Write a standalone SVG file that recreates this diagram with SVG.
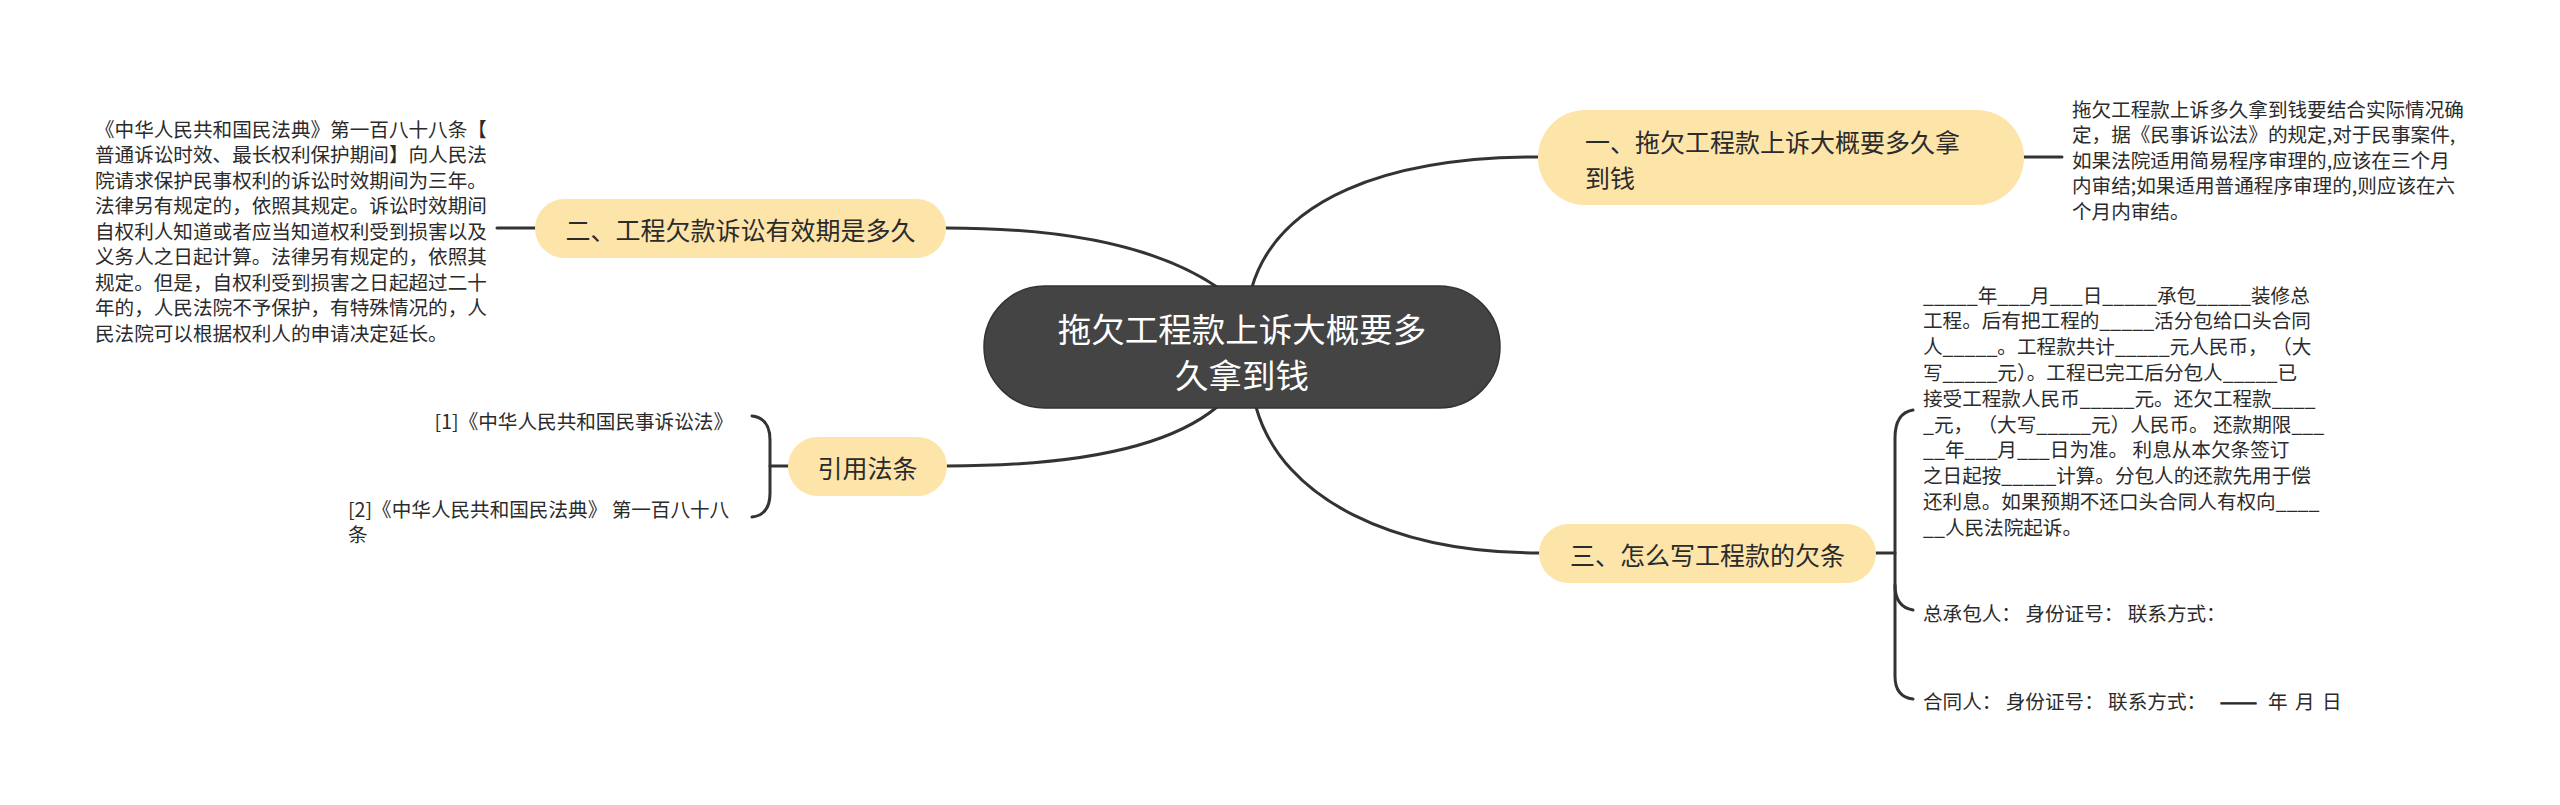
<svg xmlns="http://www.w3.org/2000/svg" width="2560" height="805" viewBox="0 0 2560 805">
<style>
.t{font-family:"Noto Sans CJK SC","Noto Sans",sans-serif;fill:#2b2b2b;dominant-baseline:central}
.s{font-size:19.6px}
.m{font-size:25px}
.c{font-size:33.5px;fill:#ffffff}
.pill{fill:#fde4a9}
.ln{fill:none;stroke:#333333;stroke-width:3;stroke-linecap:round}
</style>
<rect width="2560" height="805" fill="#ffffff"/>
<g id="connectors">
<path class="ln" d="M946,228 C1090,228 1170,255 1217,287"/>
<path class="ln" d="M1252,287 C1278,200 1385,157 1538,157"/>
<path class="ln" d="M947,466 C1095,466 1175,442 1217,407"/>
<path class="ln" d="M1256,407 C1282,500 1395,553 1539,553"/>
<path class="ln" d="M497,228 L535,228"/>
<path class="ln" d="M2024,157 L2062,157"/>
<path class="ln" d="M752,416 Q770,418 770,440 L770,493 Q770,515 752,517"/>
<path class="ln" d="M770,466 L788,466"/>
<path class="ln" d="M1876,553 L1895,553"/>
<path class="ln" d="M1913,410 Q1895,413 1895,438 L1895,676 Q1895,697 1913,699"/>
<path class="ln" d="M1895,585 Q1895,607 1913,610"/>
</g>
<g id="center">
<rect x="984" y="286" width="516" height="122" rx="61" fill="#444444" stroke="#333333" stroke-width="1.5"/>
<text class="t c" x="1242" y="327" text-anchor="middle">拖欠工程款上诉大概要多</text>
<text class="t c" x="1242" y="373" text-anchor="middle">久拿到钱</text>
</g>
<g id="node1">
<rect class="pill" x="1538" y="110" width="486" height="95" rx="47.5"/>
<text class="t m" x="1585" y="141">一、拖欠工程款上诉大概要多久拿</text>
<text class="t m" x="1585" y="177">到钱</text>
</g>
<g id="node1-text">
<text class="t s" x="2072" y="108">拖欠工程款上诉多久拿到钱要结合实际情况确</text>
<text class="t s" x="2072" y="133.5">定，据《民事诉讼法》的规定,对于民事案件,</text>
<text class="t s" x="2072" y="159">如果法院适用简易程序审理的,应该在三个月</text>
<text class="t s" x="2072" y="184.5">内审结;如果适用普通程序审理的,则应该在六</text>
<text class="t s" x="2072" y="210">个月内审结。</text>
</g>
<g id="node2">
<rect class="pill" x="535" y="199" width="411" height="59" rx="29.5"/>
<text class="t m" x="740.5" y="228.5" text-anchor="middle">二、工程欠款诉讼有效期是多久</text>
</g>
<g id="node2-text">
<text class="t s" x="95" y="128">《中华人民共和国民法典》第一百八十八条【</text>
<text class="t s" x="95" y="153.5">普通诉讼时效、最长权利保护期间】向人民法</text>
<text class="t s" x="95" y="179">院请求保护民事权利的诉讼时效期间为三年。</text>
<text class="t s" x="95" y="204.5">法律另有规定的，依照其规定。诉讼时效期间</text>
<text class="t s" x="95" y="230">自权利人知道或者应当知道权利受到损害以及</text>
<text class="t s" x="95" y="255.5">义务人之日起计算。法律另有规定的，依照其</text>
<text class="t s" x="95" y="281">规定。但是，自权利受到损害之日起超过二十</text>
<text class="t s" x="95" y="306.5">年的，人民法院不予保护，有特殊情况的，人</text>
<text class="t s" x="95" y="332">民法院可以根据权利人的申请决定延长。</text>
</g>
<g id="node3">
<rect class="pill" x="788" y="437" width="159" height="59" rx="29.5"/>
<text class="t m" x="867.5" y="466.5" text-anchor="middle">引用法条</text>
</g>
<g id="node3-ref1">
<text class="t s" x="733" y="420" text-anchor="end">[1]《中华人民共和国民事诉讼法》</text>
</g>
<g id="node3-ref2">
<text class="t s" x="348" y="508">[2]《中华人民共和国民法典》 第一百八十八</text>
<text class="t s" x="348" y="533">条</text>
</g>
<g id="node4">
<rect class="pill" x="1539" y="524" width="337" height="59" rx="29.5"/>
<text class="t m" x="1707.5" y="553.5" text-anchor="middle">三、怎么写工程款的欠条</text>
</g>
<g id="node4-text">
<text class="t s" x="1923" y="294">_____年___月___日_____承包_____装修总</text>
<text class="t s" x="1923" y="319.8">工程。后有把工程的_____活分包给口头合同</text>
<text class="t s" x="1923" y="345.6">人_____。工程款共计_____元人民币， （大</text>
<text class="t s" x="1923" y="371.4">写_____元）。工程已完工后分包人_____已</text>
<text class="t s" x="1923" y="397.2">接受工程款人民币_____元。还欠工程款____</text>
<text class="t s" x="1923" y="423">_元， （大写_____元）人民币。 还款期限___</text>
<text class="t s" x="1923" y="448.8">__年___月___日为准。 利息从本欠条签订</text>
<text class="t s" x="1923" y="474.6">之日起按_____计算。分包人的还款先用于偿</text>
<text class="t s" x="1923" y="500.4">还利息。如果预期不还口头合同人有权向____</text>
<text class="t s" x="1923" y="526.2">__人民法院起诉。</text>
</g>
<g id="node4-sign1">
<text class="t s" x="1923" y="612">总承包人： 身份证号： 联系方式：</text>
</g>
<g id="node4-sign2">
<text class="t s" x="1923" y="700">合同人： 身份证号： 联系方式：<tspan x="2220" textLength="37" lengthAdjust="spacingAndGlyphs" stroke="#2b2b2b" stroke-width="1.2">——</tspan><tspan x="2268">年</tspan><tspan x="2295">月</tspan><tspan x="2322">日</tspan></text>
</g>
</svg>
